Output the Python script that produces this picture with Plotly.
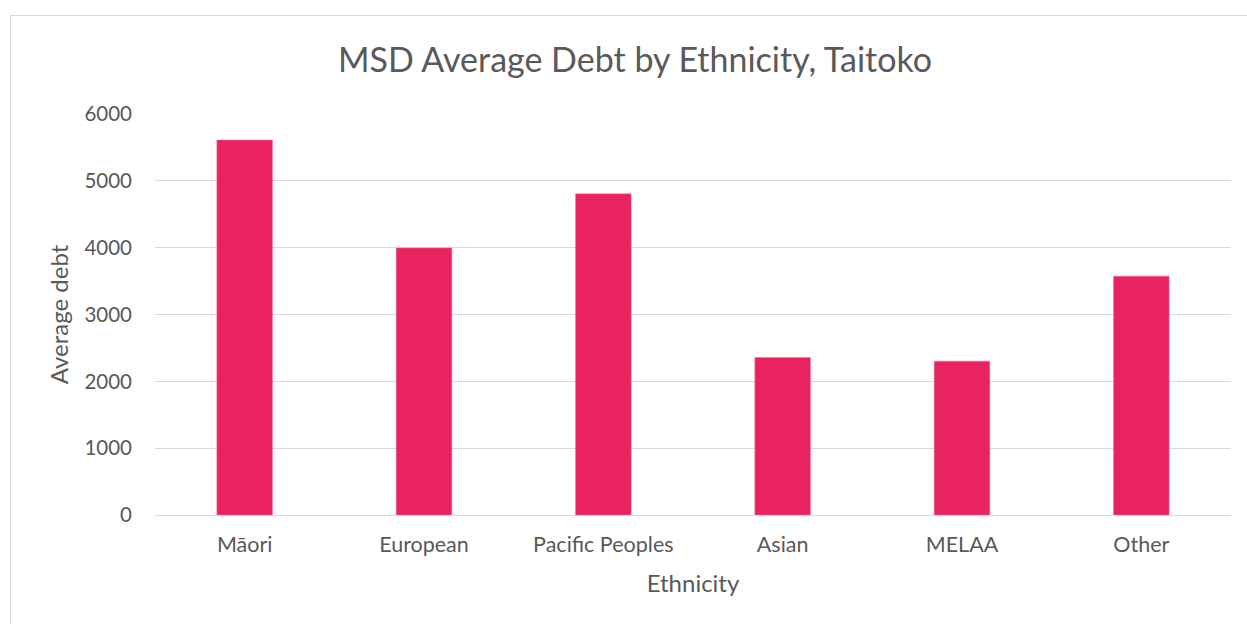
import plotly.graph_objects as go

categories = ["Māori", "European", "Pacific Peoples", "Asian", "MELAA", "Other"]
average_debt = [5610, 3995, 4805, 2357, 2302, 3572]
y_ticks = [0, 1000, 2000, 3000, 4000, 5000, 6000]

W, H = 1247, 624
L, R, T, B = 155, 16, 114, 109
pw, ph = W - L - R, H - T - B

def px_x(x):
    return (x - L) / pw

def px_y(y):
    return (H - B - y) / ph

FONT = "Lato"
GREY = "#595959"

fig = go.Figure(go.Bar(
    x=categories, y=average_debt,
    marker=dict(color="#E92360", line=dict(color="#F06A90", width=0.5)),
    width=0.31,
))

fig.update_layout(
    width=W, height=H,
    margin=dict(l=L, r=R, t=T, b=B),
    paper_bgcolor="white", plot_bgcolor="white",
    font=dict(family=FONT, color=GREY),
    showlegend=False,
    title=dict(text="MSD Average Debt by Ethnicity, Taitoko",
               font=dict(size=34, color=GREY, family=FONT),
               x=635 / W, xanchor="center", xref="container",
               y=1 - 60 / H, yanchor="middle", yref="container"),
    xaxis=dict(
        showgrid=False, showline=True, linecolor="#D9D9D9", linewidth=1,
        ticks="", tickfont=dict(size=21.5, color=GREY),
        ticklabelstandoff=10,
        title=dict(text="Ethnicity", font=dict(size=24, color=GREY), standoff=19),
    ),
    yaxis=dict(
        range=[0, 6000], tickvals=y_ticks,
        showgrid=True, gridcolor="#D9D9D9", gridwidth=1,
        zeroline=False, showline=False,
        ticks="", tickfont=dict(size=20.5, color=GREY),
        ticklabelstandoff=22,
        title=dict(text="Average debt", font=dict(size=24, color=GREY), standoff=9),
    ),
    shapes=[
        dict(type="line", xref="paper", yref="paper",
             x0=px_x(10.5), x1=px_x(10.5), y0=px_y(15.5), y1=px_y(640),
             line=dict(color="#D9D9D9", width=1)),
        dict(type="line", xref="paper", yref="paper",
             x0=px_x(10.5), x1=px_x(1260), y0=px_y(15.5), y1=px_y(15.5),
             line=dict(color="#D9D9D9", width=1)),
    ],
)

fig.write_html("out.html", config={"displayModeBar": False},
               post_script="document.body.style.margin='0';")
